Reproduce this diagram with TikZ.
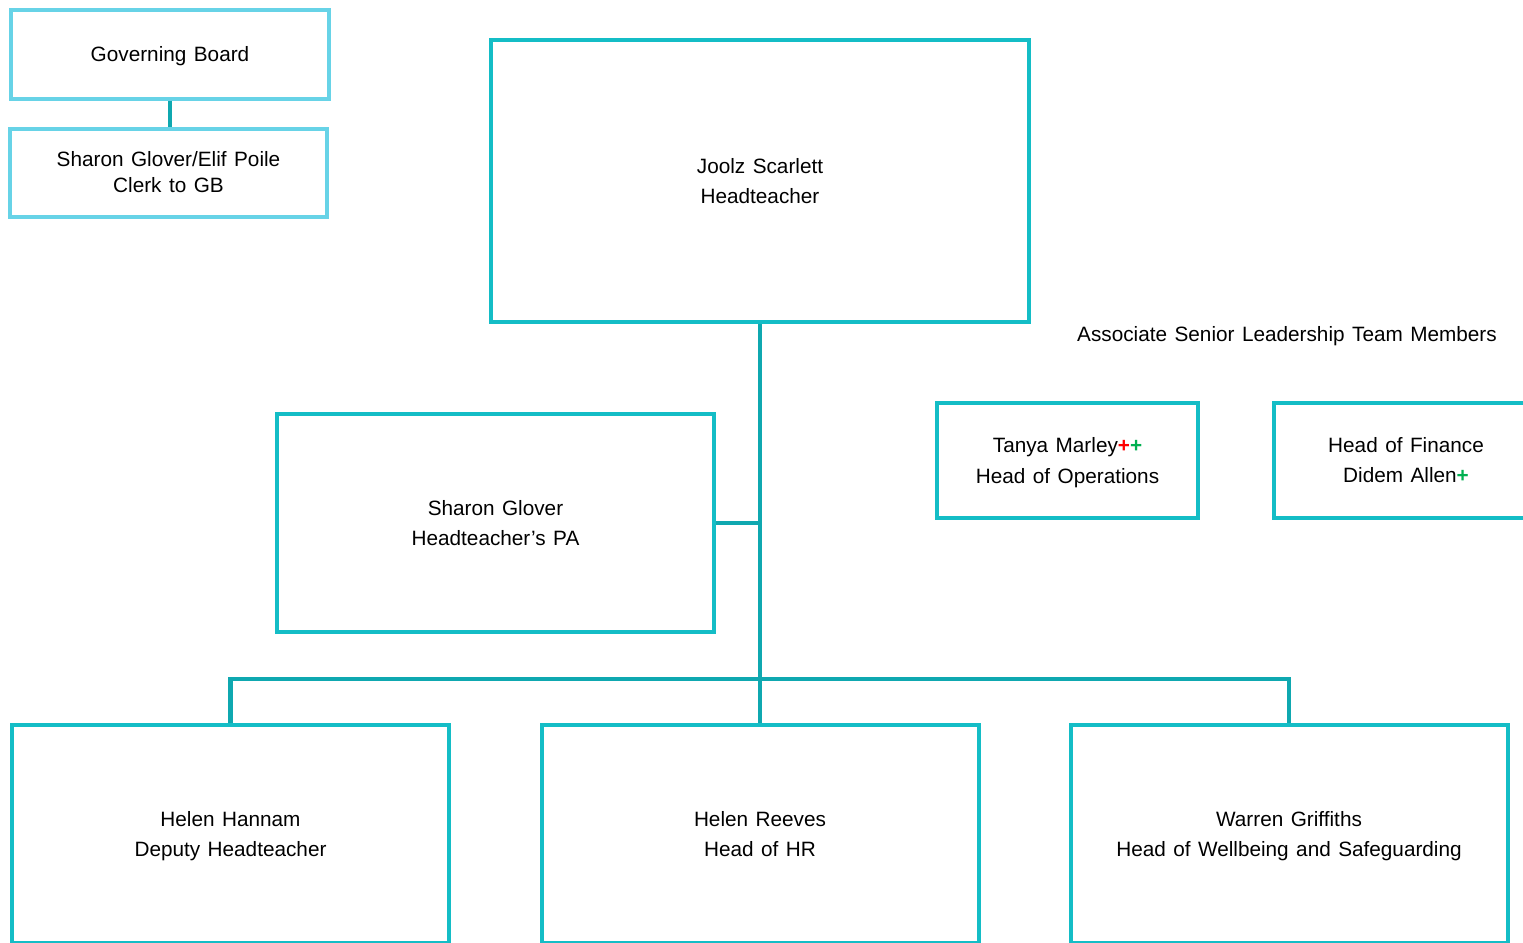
\documentclass[tikz,border=0pt]{standalone}
\usepackage{fontspec}
\setmainfont{Liberation Sans}
\usepackage{xcolor}
\usetikzlibrary{positioning,calc}
\definecolor{boxteal}{HTML}{14BDC6}
\definecolor{gbcyan}{HTML}{67D3E7}
\definecolor{linkteal}{HTML}{0FA8B0}
\definecolor{plusred}{HTML}{FF0000}
\definecolor{plusgreen}{HTML}{00B050}
\newcommand\px{0.025cm}
\newcommand\chartfont{\fontsize{14.75}{21.8}\selectfont\spaceskip=0.36em\relax}
\newcommand\clerkfont{\fontsize{14.75}{18.5}\selectfont\spaceskip=0.36em\relax}
\newcommand\pair[2]{\begin{tabular}[b]{@{}c@{}}#1\\#2\end{tabular}}
\tikzstyle{staff} = [rectangle, draw=boxteal, line width=2.85pt, inner sep=0pt, font=\chartfont, text height=32.4pt, text depth=0pt]
\tikzstyle{board} = [rectangle, draw=gbcyan, line width=2.85pt, inner sep=0pt, font=\chartfont, text height=10.6pt, text depth=0pt]
\tikzstyle{link} = [draw=linkteal, line width=2.85pt]
\newcommand\plusR{\textcolor{plusred}{\textbf{+}}}
\newcommand\plusG{\textcolor{plusgreen}{\textbf{+}}}

\begin{document}
\begin{tikzpicture}[x=\px, y=-\px]
\useasboundingbox (0,0) rectangle (1523,942);
\clip (0,0) rectangle (1523,942);
%----------------------------------------------------------------------------
% Governing board
\node (govBoard) [board, minimum width=318*\px, minimum height=89*\px] at (170,54) {Governing Board};
\node (clerkGB) [board, minimum width=317*\px, minimum height=88*\px, font=\clerkfont, text height=29.1pt] at (168.5,172.5) {\pair{Sharon Glover/Elif Poile}{Clerk to GB}};

%----------------------------------------------------------------------------
% Staff boxes
\node (headT) [staff, minimum width=538*\px, minimum height=282*\px] at (760,181) {\pair{Joolz Scarlett}{Headteacher}};
\node (headPA) [staff, minimum width=437*\px, minimum height=218*\px] at (495.5,523) {\pair{Sharon Glover}{Headteacher’s PA}};

\node (deputyHT) [staff, minimum width=437*\px, minimum height=218*\px] at (230.5,834) {\pair{Helen Hannam}{Deputy Headteacher}};
\node (headHR) [staff, minimum width=437*\px, minimum height=218*\px] at (760,834) {\pair{Helen Reeves}{Head of HR}};
\node (headWell) [staff, minimum width=437*\px, minimum height=218*\px] at (1289,834) {\pair{Warren Griffiths}{Head of Wellbeing and Safeguarding}};

%----------------------------------------------------------------------------
% Associate members
\node (assocSLT) [font=\chartfont, text height=10.6pt, text depth=0pt] at (1287,334) {Associate Senior Leadership Team Members};
\node (headOps) [staff, minimum width=261*\px, minimum height=115*\px] at (1067.5,460.5) {\pair{Tanya Marley\plusR\plusG}{Head of Operations}};
\node (headFin) [staff, minimum width=264*\px, minimum height=115*\px] at (1406,460) {\pair{Head of Finance}{Didem Allen\plusG}};

%----------------------------------------------------------------------------
% Lines
\coordinate (busMid) at (760,679);
\draw [link] (govBoard.south) -- (govBoard.south |- clerkGB.north);
\draw [link] (headT.south) -- (headHR.north);
\draw [link] (headPA.east) -- (headPA.east -| headT.south);
\draw [link] (deputyHT.north) |- (busMid) -| (headWell.north);

\end{tikzpicture}
\end{document}
